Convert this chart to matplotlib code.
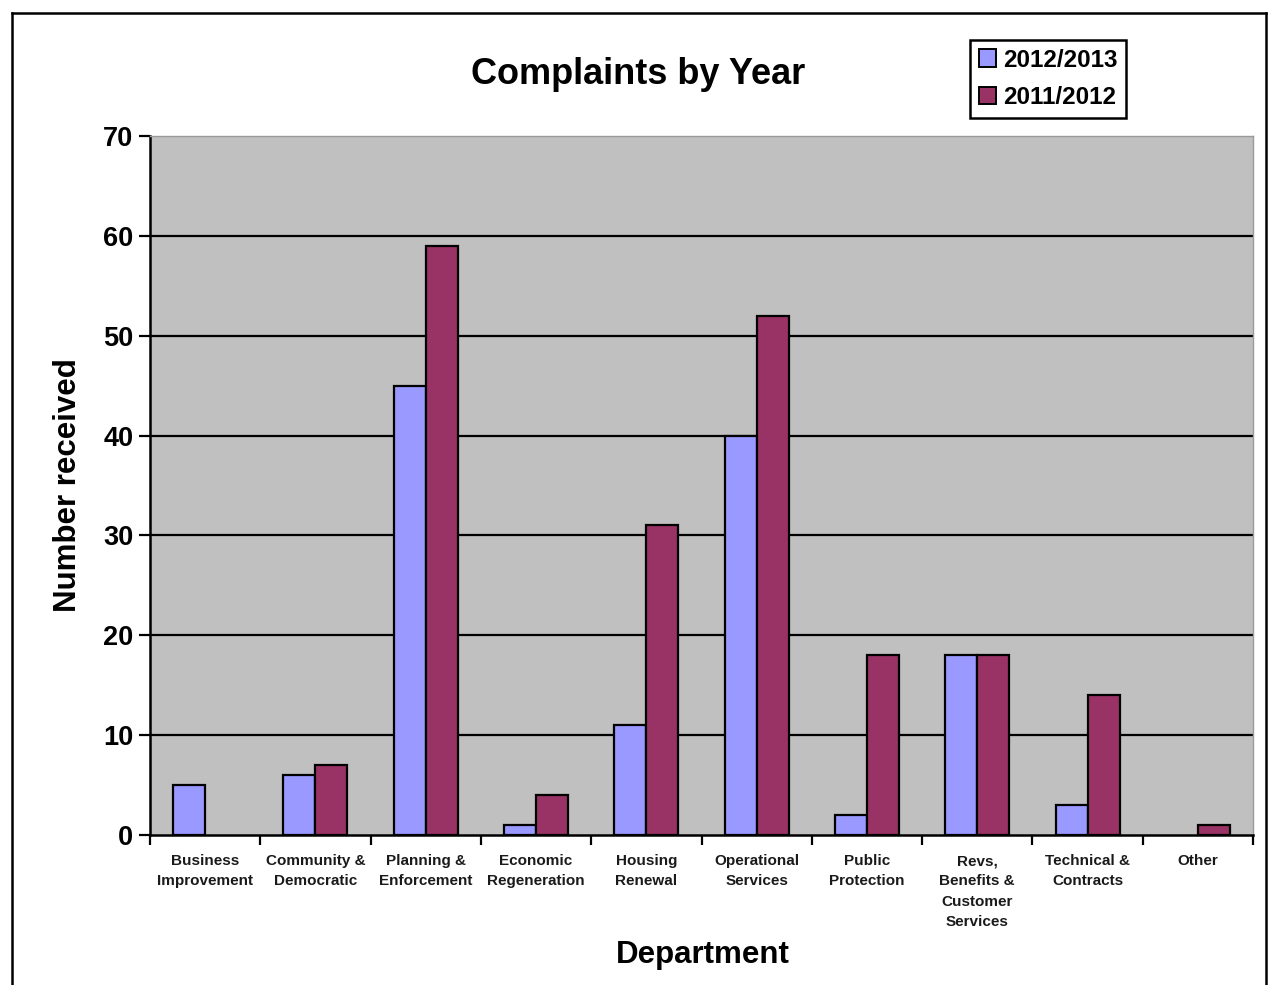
import numpy as np
import matplotlib
matplotlib.use('Agg')
from matplotlib import pyplot as plt
from matplotlib.lines import Line2D
from matplotlib.patches import Patch

plt.rcParams['font.family'] = ['Liberation Sans', 'DejaVu Sans']
plt.rcParams['font.weight'] = 'bold'

# Complaints per department
departments = ['Business\nImprovement', 'Community &\nDemocratic', 'Planning &\nEnforcement',
               'Economic\nRegeneration', 'Housing\nRenewal', 'Operational\nServices',
               'Public\nProtection', 'Revs,\nBenefits &\nCustomer\nServices',
               'Technical &\nContracts', 'Other']
year_2012_13 = [5, 6, 45, 1, 11, 40, 2, 18, 3, 0]
year_2011_12 = [0, 7, 59, 4, 31, 52, 18, 18, 14, 1]
y_ticks = [0, 10, 20, 30, 40, 50, 60, 70]

c_new = '#9999ff'
c_old = '#993366'

fig = plt.figure(figsize=(12.72, 9.85), dpi=100)
ax = fig.add_axes([150 / 1272, 1 - 835 / 985, 1103 / 1272, 699 / 985])
ax.set_facecolor('#c0c0c0')

x = np.arange(len(departments))
w = 0.29
b1 = ax.bar(x - w / 2, year_2012_13, w, color=c_new, edgecolor='black', linewidth=1.6, zorder=3)
b2 = ax.bar(x + w / 2, year_2011_12, w, color=c_old, edgecolor='black', linewidth=1.6, zorder=3)
# hide empty bars
for bars in (b1, b2):
    for rect in bars:
        if rect.get_height() == 0:
            rect.set_visible(False)

ax.set_ylim(0, 70)
ax.set_xlim(-0.5, len(departments) - 0.5)
ax.set_yticks(y_ticks)
for v in y_ticks[1:-1]:
    ax.axhline(v, color='black', linewidth=1.6, zorder=2)

ax.set_xticks(x)
ax.set_xticklabels(departments, fontsize=11, fontweight='bold', color='#1a1a1a')
for lbl in ax.get_xticklabels():
    lbl.set_linespacing(1.55)
ax.set_xticks(np.arange(-0.5, len(departments)), minor=True)
ax.tick_params(axis='x', which='major', length=0, pad=14)
ax.tick_params(axis='x', which='minor', length=7, width=1.6, direction='out')
ax.tick_params(axis='y', length=8, width=1.6, direction='out', labelsize=19.5, pad=4)

for s in ('left', 'bottom'):
    ax.spines[s].set_linewidth(1.8)
    ax.spines[s].set_color('black')
for s in ('top', 'right'):
    ax.spines[s].set_linewidth(1.0)
    ax.spines[s].set_color('#9a9a9a')

fig.text(638 / 1272, 1 - 75 / 985, 'Complaints by Year', ha='center', va='center',
         fontsize=26, fontweight='bold')
fig.text(68 / 1272, 1 - 485 / 985, 'Number received', ha='center', va='center',
         rotation=90, fontsize=22.5, fontweight='bold')
fig.text(703 / 1272, 1 - 955 / 985, 'Department', ha='center', va='center',
         fontsize=22.5, fontweight='bold')

handles = [Patch(facecolor=c_new, edgecolor='black', linewidth=1.4, label='2012/2013'),
           Patch(facecolor=c_old, edgecolor='black', linewidth=1.4, label='2011/2012')]
leg = fig.legend(handles=handles, loc='upper left',
                 bbox_to_anchor=(970 / 1272, 1 - 40 / 985), fontsize=17.5,
                 fancybox=False, framealpha=1, edgecolor='black',
                 handlelength=0.7, handleheight=0.7, handletextpad=0.3,
                 borderpad=0.35, labelspacing=0.6, borderaxespad=0)
leg.get_frame().set_linewidth(1.8)

# outer chart border
for xs, ys in (([12, 12], [985, 13]), ([12, 1266], [13, 13]), ([1266, 1266], [13, 985])):
    fig.add_artist(Line2D([v / 1272 for v in xs], [1 - v / 985 for v in ys],
                          color='black', linewidth=1.8))

fig.savefig('out.png', dpi=100)
